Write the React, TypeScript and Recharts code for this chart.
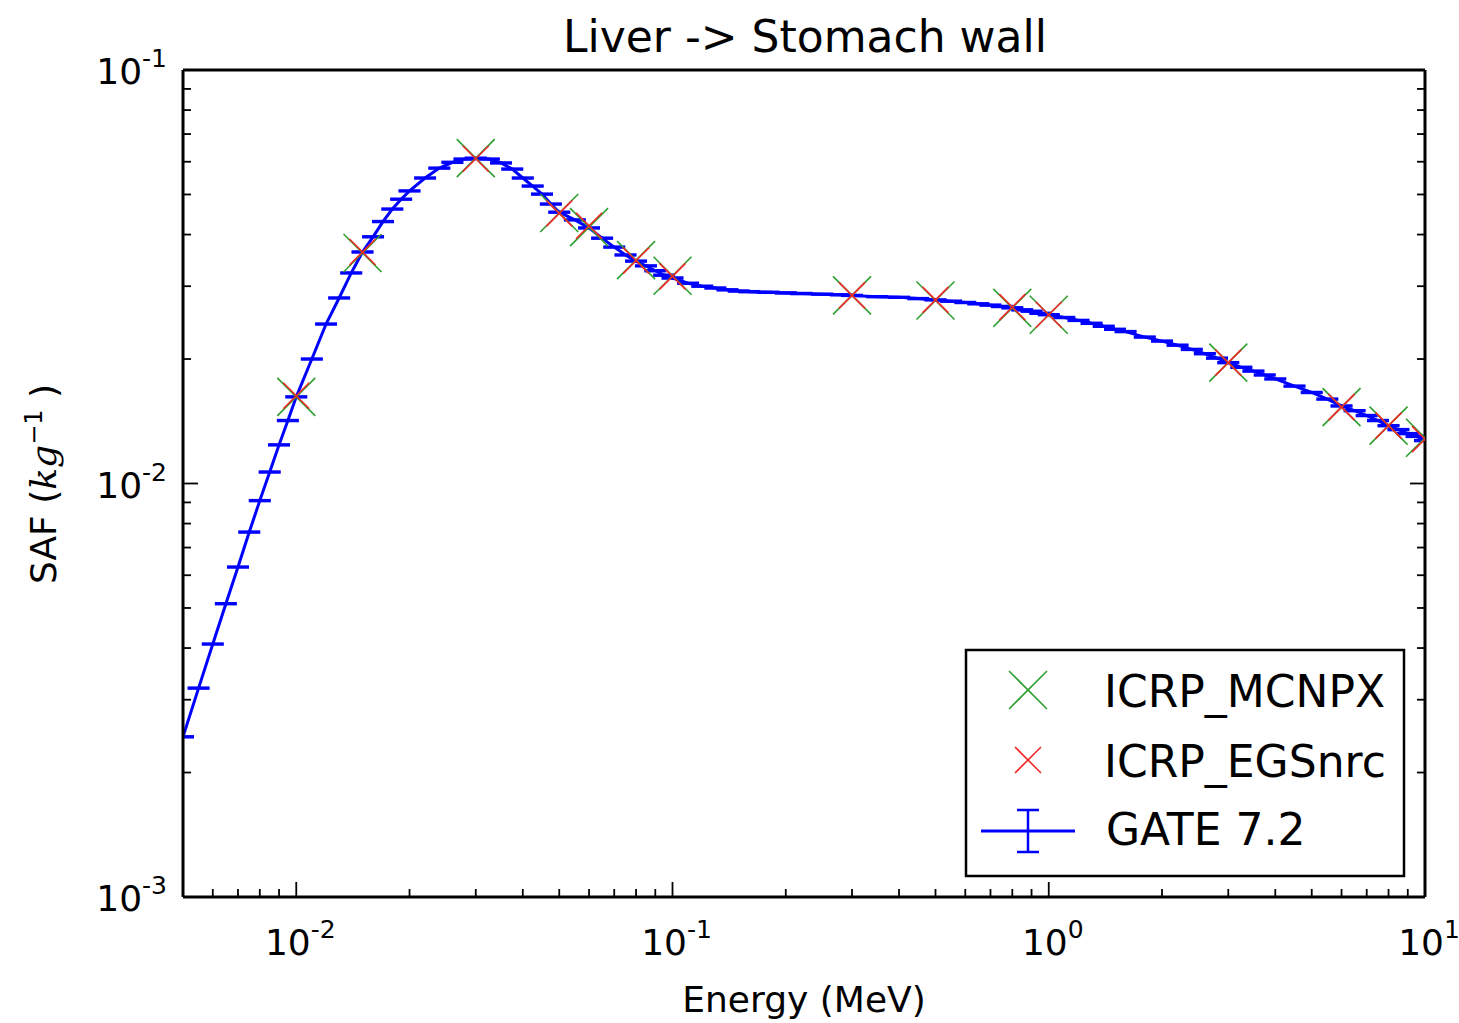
import React from "react";
import { ComposedChart, Line, Scatter, XAxis, YAxis, ErrorBar } from "recharts";

// ─── Data ─────────────────────────────────────────────────────────────────────

// GATE 7.2 (energy in MeV, SAF in kg^-1)
const gateEnergy = [
  0.005, 0.0055, 0.006, 0.0065, 0.007, 0.0075, 0.008, 0.0085, 0.009, 0.0095,
  0.01, 0.011, 0.012, 0.013, 0.014, 0.015, 0.016, 0.017, 0.018, 0.019,
  0.02, 0.022, 0.024, 0.026, 0.028, 0.03, 0.0325, 0.035, 0.0375, 0.04,
  0.0425, 0.045, 0.0475, 0.05, 0.055, 0.06, 0.065, 0.07, 0.075, 0.08,
  0.085, 0.09, 0.095, 0.1, 0.11, 0.12, 0.13, 0.14, 0.15, 0.16,
  0.18, 0.2, 0.22, 0.25, 0.28, 0.3, 0.35, 0.4, 0.45, 0.5,
  0.55, 0.6, 0.65, 0.7, 0.75, 0.8, 0.85, 0.9, 0.95, 1.0,
  1.1, 1.2, 1.3, 1.4, 1.5, 1.6, 1.8, 2.0, 2.2, 2.4,
  2.6, 2.8, 3.0, 3.25, 3.5, 3.75, 4.0, 4.5, 5.0, 5.5,
  6.0, 6.5, 7.0, 7.5, 8.0, 8.5, 9.0, 9.5, 10.0,
];
const gateSaf = [
  2.44e-3, 3.2e-3, 4.09e-3, 5.12e-3, 6.28e-3, 7.63e-3, 9.09e-3, 1.066e-2, 1.24e-2, 1.42e-2,
  1.62e-2, 2.0e-2, 2.43e-2, 2.81e-2, 3.23e-2, 3.63e-2, 3.95e-2, 4.3e-2, 4.61e-2, 4.87e-2,
  5.1e-2, 5.48e-2, 5.79e-2, 5.98e-2, 6.09e-2, 6.12e-2, 6.09e-2, 5.96e-2, 5.76e-2, 5.48e-2,
  5.24e-2, 5.01e-2, 4.74e-2, 4.53e-2, 4.34e-2, 4.15e-2, 3.92e-2, 3.73e-2, 3.57e-2, 3.45e-2,
  3.36e-2, 3.27e-2, 3.19e-2, 3.14e-2, 3.05e-2, 3.0e-2, 2.97e-2, 2.94e-2, 2.92e-2, 2.91e-2,
  2.9e-2, 2.89e-2, 2.88e-2, 2.87e-2, 2.86e-2, 2.85e-2, 2.83e-2, 2.82e-2, 2.8e-2, 2.78e-2,
  2.76e-2, 2.74e-2, 2.72e-2, 2.7e-2, 2.68e-2, 2.66e-2, 2.63e-2, 2.61e-2, 2.58e-2, 2.56e-2,
  2.52e-2, 2.48e-2, 2.44e-2, 2.4e-2, 2.36e-2, 2.33e-2, 2.26e-2, 2.21e-2, 2.16e-2, 2.11e-2,
  2.06e-2, 2.01e-2, 1.96e-2, 1.91e-2, 1.87e-2, 1.83e-2, 1.79e-2, 1.72e-2, 1.66e-2, 1.6e-2,
  1.54e-2, 1.5e-2, 1.46e-2, 1.42e-2, 1.38e-2, 1.35e-2, 1.32e-2, 1.3e-2, 1.27e-2,
];
const gateErr = [
  1.0e-5, 1.3e-5, 1.6e-5, 2.0e-5, 2.5e-5, 3.1e-5, 3.6e-5, 4.3e-5, 5.0e-5, 5.7e-5,
  6.5e-5, 8.0e-5, 9.7e-5, 1.1e-4, 1.3e-4, 1.5e-4, 1.6e-4, 1.7e-4, 1.8e-4, 1.9e-4,
  2.0e-4, 2.2e-4, 2.3e-4, 2.4e-4, 2.4e-4, 2.4e-4, 2.4e-4, 2.4e-4, 2.3e-4, 2.2e-4,
  2.1e-4, 2.0e-4, 1.9e-4, 1.8e-4, 1.7e-4, 1.7e-4, 1.6e-4, 1.5e-4, 1.4e-4, 1.4e-4,
  1.3e-4, 1.3e-4, 1.3e-4, 1.3e-4, 1.2e-4, 1.2e-4, 1.2e-4, 1.2e-4, 1.2e-4, 1.2e-4,
  1.2e-4, 1.2e-4, 1.2e-4, 1.1e-4, 1.1e-4, 1.1e-4, 1.1e-4, 1.1e-4, 1.1e-4, 1.1e-4,
  1.1e-4, 1.1e-4, 1.1e-4, 1.1e-4, 1.1e-4, 1.1e-4, 1.1e-4, 1.0e-4, 1.0e-4, 1.0e-4,
  1.0e-4, 9.9e-5, 9.8e-5, 9.6e-5, 9.4e-5, 9.3e-5, 9.0e-5, 8.8e-5, 8.6e-5, 8.4e-5,
  8.2e-5, 8.0e-5, 7.8e-5, 7.6e-5, 7.5e-5, 7.3e-5, 7.2e-5, 6.9e-5, 6.6e-5, 6.4e-5,
  6.2e-5, 6.0e-5, 5.8e-5, 5.7e-5, 5.5e-5, 5.4e-5, 5.3e-5, 5.2e-5, 5.1e-5,
];

// ICRP reference values
const icrpEnergy = [0.01, 0.015, 0.03, 0.05, 0.06, 0.08, 0.1, 0.3, 0.5, 0.8, 1, 3, 6, 8, 10];
const mcnpxSaf = [
  1.62e-2, 3.61e-2, 6.12e-2, 4.51e-2, 4.17e-2, 3.47e-2, 3.18e-2, 2.85e-2,
  2.77e-2, 2.66e-2, 2.56e-2, 1.96e-2, 1.53e-2, 1.38e-2, 1.29e-2,
];
const egsnrcSaf = [
  1.63e-2, 3.63e-2, 6.1e-2, 4.5e-2, 4.2e-2, 3.46e-2, 3.17e-2, 2.85e-2,
  2.78e-2, 2.67e-2, 2.56e-2, 1.96e-2, 1.53e-2, 1.38e-2, 1.28e-2,
];

// Axis ticks (majors + minors on a log scale)
const xTicks = [
  0.005, 0.006, 0.007, 0.008, 0.009,
  0.01, 0.02, 0.03, 0.04, 0.05, 0.06, 0.07, 0.08, 0.09,
  0.1, 0.2, 0.3, 0.4, 0.5, 0.6, 0.7, 0.8, 0.9,
  1, 2, 3, 4, 5, 6, 7, 8, 9, 10,
];
const yTicks = [
  0.001, 0.002, 0.003, 0.004, 0.005, 0.006, 0.007, 0.008, 0.009,
  0.01, 0.02, 0.03, 0.04, 0.05, 0.06, 0.07, 0.08, 0.09, 0.1,
];

// ─── Helpers ─────────────────────────────────────────────────────────────────

const FONT = "'DejaVu Sans', 'Bitstream Vera Sans', sans-serif";
const BLUE = "#0000ff";
const GREEN = "#2f9f2f";
const RED = "#f02828";
const MAJOR = 15;
const MINOR = 8;

function decade(v: number): number | null {
  const l = Math.log10(v);
  return Math.abs(l - Math.round(l)) < 1e-9 ? Math.round(l) : null;
}

function Pow10({ x, y, exp, anchor }: { x: number; y: number; exp: number; anchor: "middle" | "end" }) {
  return (
    <text x={x} y={y} textAnchor={anchor} fontFamily={FONT} fontSize={36} fill="#000">
      10
      <tspan dy={-17} fontSize={25}>
        {exp}
      </tspan>
    </text>
  );
}

function XTick(props: any) {
  const { x, y, payload, top } = props;
  const exp = decade(payload.value);
  const len = exp !== null ? MAJOR : MINOR;
  const dir = top ? 1 : -1;
  return (
    <g>
      <line x1={x} x2={x} y1={y} y2={y + dir * len} stroke="#000" strokeWidth={1.8} />
      {!top && exp !== null && <Pow10 x={x + 4} y={y + 58} exp={exp} anchor="middle" />}
    </g>
  );
}

function YTick(props: any) {
  const { x, y, payload, right } = props;
  const exp = decade(payload.value);
  const len = exp !== null ? MAJOR : MINOR;
  const dir = right ? -1 : 1;
  return (
    <g>
      <line x1={x} x2={x + dir * len} y1={y} y2={y} stroke="#000" strokeWidth={1.8} />
      {!right && exp !== null && <Pow10 x={x - 16} y={y + 14} exp={exp} anchor="end" />}
    </g>
  );
}

function Cross({ cx, cy, r, color }: { cx: number; cy: number; r: number; color: string }) {
  return (
    <g stroke={color} strokeWidth={1.6} fill="none">
      <line x1={cx - r} y1={cy - r} x2={cx + r} y2={cy + r} />
      <line x1={cx - r} y1={cy + r} x2={cx + r} y2={cy - r} />
    </g>
  );
}

const axisLine = { stroke: "#000", strokeWidth: 3 };

// ─── Component ────────────────────────────────────────────────────────────────

export default function App() {
  const gateData = gateEnergy.map((e, i) => ({ e, v: gateSaf[i], err: gateErr[i] }));
  const mcnpxData = icrpEnergy.map((e, i) => ({ e, v: mcnpxSaf[i] }));
  const egsData = icrpEnergy.map((e, i) => ({ e, v: egsnrcSaf[i] }));

  return (
    <div style={{ position: "absolute", left: 0, top: 0, width: 1459, height: 1023, background: "#fff" }}>
      {/* keep series inside the axes frame, like matplotlib does */}
      <style>{`.recharts-line, .recharts-scatter, .recharts-errorBar { clip-path: url(#plot-clip); }`}</style>
      <ComposedChart width={1459} height={1023} margin={{ top: 69, right: 33, bottom: 125, left: 182 }}>
        <XAxis
          dataKey="e"
          type="number"
          scale="log"
          domain={[0.005, 10]}
          ticks={xTicks}
          interval={0}
          allowDataOverflow
          height={1}
          tickSize={0}
          tickMargin={0}
          tickLine={false}
          axisLine={axisLine}
          tick={(p: any) => <XTick {...p} />}
        />
        <XAxis
          xAxisId="top"
          orientation="top"
          type="number"
          scale="log"
          domain={[0.005, 10]}
          ticks={xTicks}
          interval={0}
          allowDataOverflow
          height={1}
          tickSize={0}
          tickMargin={0}
          tickLine={false}
          axisLine={axisLine}
          tick={(p: any) => <XTick {...p} top />}
        />
        <YAxis
          type="number"
          scale="log"
          domain={[0.001, 0.1]}
          ticks={yTicks}
          interval={0}
          allowDataOverflow
          width={1}
          tickSize={0}
          tickMargin={0}
          tickLine={false}
          axisLine={axisLine}
          tick={(p: any) => <YTick {...p} />}
        />
        <YAxis
          yAxisId="right"
          orientation="right"
          type="number"
          scale="log"
          domain={[0.001, 0.1]}
          ticks={yTicks}
          interval={0}
          allowDataOverflow
          width={1}
          tickSize={0}
          tickMargin={0}
          tickLine={false}
          axisLine={axisLine}
          tick={(p: any) => <YTick {...p} right />}
        />

        <Line
          data={gateData}
          dataKey="v"
          stroke={BLUE}
          strokeWidth={3}
          dot={false}
          activeDot={false}
          isAnimationActive={false}
        >
          <ErrorBar dataKey="err" direction="y" width={11} stroke={BLUE} strokeWidth={2} isAnimationActive={false} />
        </Line>
        <Scatter
          data={mcnpxData}
          dataKey="v"
          isAnimationActive={false}
          shape={(p: any) => <Cross cx={p.cx} cy={p.cy} r={19} color={GREEN} />}
        />
        <Scatter
          data={egsData}
          dataKey="v"
          isAnimationActive={false}
          shape={(p: any) => <Cross cx={p.cx} cy={p.cy} r={13} color={RED} />}
        />
      </ComposedChart>

      {/* ── Title, axis labels, legend ── */}
      <svg
        width={1459}
        height={1023}
        style={{ position: "absolute", left: 0, top: 0, pointerEvents: "none" }}
        fontFamily={FONT}
      >
        <defs>
          <clipPath id="plot-clip" clipPathUnits="userSpaceOnUse">
            <rect x={183} y={70} width={1242} height={827} />
          </clipPath>
        </defs>
        <text x={805} y={52} textAnchor="middle" fontSize={44} fill="#000">
          Liver -&gt; Stomach wall
        </text>
        <text x={804} y={1012} textAnchor="middle" fontSize={36} fill="#000">
          Energy (MeV)
        </text>
        <text transform="translate(56,484) rotate(-90)" textAnchor="middle" fontSize={36} fill="#000">
          SAF (
          <tspan fontStyle="italic" fontFamily="'DejaVu Serif', serif">
            kg
          </tspan>
          <tspan dy={-14} fontSize={24}>
            −1
          </tspan>
          <tspan dy={14}> )</tspan>
        </text>

        <rect x={966} y={650} width={438} height={226} fill="#fff" stroke="#000" strokeWidth={2.5} />
        <Cross cx={1028} cy={690} r={19} color={GREEN} />
        <text x={1104} y={707} fontSize={44} fill="#000">
          ICRP_MCNPX
        </text>
        <Cross cx={1028} cy={760} r={13} color={RED} />
        <text x={1104} y={777} fontSize={44} fill="#000">
          ICRP_EGSnrc
        </text>
        <g stroke={BLUE} strokeWidth={3}>
          <line x1={981} x2={1075} y1={831} y2={831} />
          <line x1={1028} x2={1028} y1={810} y2={852} strokeWidth={2.5} />
          <line x1={1017} x2={1039} y1={810} y2={810} strokeWidth={2.5} />
          <line x1={1017} x2={1039} y1={852} y2={852} strokeWidth={2.5} />
        </g>
        <text x={1106} y={845} fontSize={44} fill="#000">
          GATE 7.2
        </text>
      </svg>
    </div>
  );
}
